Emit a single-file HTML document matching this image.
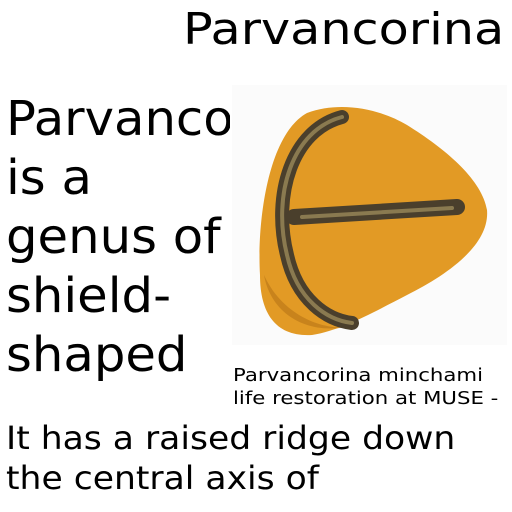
<!DOCTYPE html>
<html><head><meta charset="utf-8"><style>
html,body{margin:0;padding:0;background:#fff;}
body{width:512px;height:512px;position:relative;overflow:hidden;font-family:"DejaVu Sans","Liberation Sans",sans-serif;color:#000;}
.abs{position:absolute;white-space:nowrap;transform-origin:0 0;}
</style></head><body>
<div class="abs" style="left:183px;top:2px;font-size:44px;line-height:56px;transform:scaleX(1.12);">Parvancorina</div>
<div style="position:absolute;left:0;top:90px;width:230px;height:300px;overflow:hidden;">
<div class="abs" style="left:6px;top:0;font-size:48px;line-height:59px;transform:scaleX(1.035);">Parvancorina<br>is a<br>genus of<br>shield-<br>shaped</div>
</div>
<svg class="abs" style="left:232px;top:85px;" width="275" height="260" viewBox="0 0 275 260">
<rect width="275" height="260" fill="#fbfbfb"/>
<path d="M75 28 C110 15 150 25 175 40 C215 65 250 95 255 125 C258 160 215 190 175 210 C140 228 110 245 80 250 C45 252 28 230 28 190 C25 140 35 50 75 28 Z" fill="#e29a25"/>
<path d="M32 190 C38 225 70 250 115 242 C90 245 50 230 32 190 Z" fill="#b87418" opacity="0.6"/>
<path d="M110 32 C60 45 40 110 55 170 C65 215 95 235 120 238" fill="none" stroke="#4a3f2c" stroke-width="14" stroke-linecap="round"/>
<path d="M110 32 C60 45 40 110 55 170 C65 215 95 235 120 238" fill="none" stroke="#8a7a50" stroke-width="4" stroke-linecap="round"/>
<path d="M62 132 L225 122" stroke="#4a3f2c" stroke-width="16" stroke-linecap="round"/>
<path d="M70 132 L220 123" stroke="#8a7a50" stroke-width="4" stroke-linecap="round"/>
</svg>
<div class="abs" style="left:233px;top:364px;font-size:18px;line-height:23px;transform:scaleX(1.18);">Parvancorina minchami<br>life restoration at MUSE -</div>
<div class="abs" style="left:6px;top:418px;font-size:32px;line-height:40px;transform:scaleX(1.08);">It has a raised ridge down<br>the central axis of</div>
</body></html>
